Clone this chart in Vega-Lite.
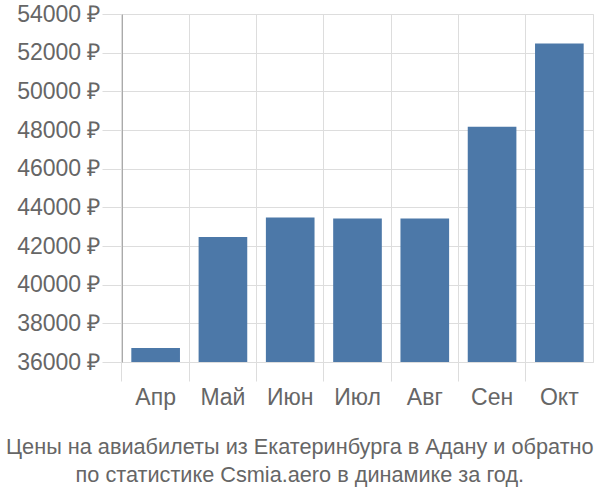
{
  "$schema": "https://vega.github.io/schema/vega-lite/v6.json",
  "width": 471,
  "height": 348,
  "autosize": {"type": "none"},
  "padding": {"left": 122, "top": 14, "right": 7, "bottom": 138},
  "background": "white",
  "title": {
    "text": ["Цены на авиабилеты из Екатеринбурга в Адану и обратно", "по статистике Csmia.aero в динамике за год."],
    "orient": "bottom",
    "anchor": "middle",
    "frame": "bounds",
    "font": "Liberation Sans",
    "fontSize": 21.7,
    "fontWeight": "normal",
    "color": "#666666",
    "lineHeight": 28,
    "offset": 28,
    "dx": -5
  },
  "data": {
    "values": [
      {"month": "Апр", "price": 36720},
      {"month": "Май", "price": 42470},
      {"month": "Июн", "price": 43470},
      {"month": "Июл", "price": 43420},
      {"month": "Авг", "price": 43420},
      {"month": "Сен", "price": 48170},
      {"month": "Окт", "price": 52470}
    ]
  },
  "mark": {"type": "bar", "color": "#4c78a8", "width": {"band": 0.723}},
  "encoding": {
    "x": {
      "field": "month",
      "type": "nominal",
      "sort": null,
      "scale": {"paddingInner": 0, "paddingOuter": 0},
      "axis": {
        "title": null,
        "labelAngle": 0,
        "labelFont": "Liberation Sans",
        "labelFontSize": 23,
        "labelColor": "#666666",
        "labelPadding": 5,
        "bandPosition": 0,
        "grid": true,
        "gridColor": "#dddddd",
        "tickColor": "#dddddd",
        "tickSize": 19,
        "domain": false
      }
    },
    "y": {
      "field": "price",
      "type": "quantitative",
      "scale": {"domain": [36000, 54000], "zero": false, "nice": false},
      "axis": {
        "title": null,
        "values": [36000, 38000, 40000, 42000, 44000, 46000, 48000, 50000, 52000, 54000],
        "labelExpr": "datum.value + ' ₽'",
        "labelFont": "Liberation Sans",
        "labelFontSize": 23,
        "labelColor": "#666666",
        "labelPadding": 2,
        "gridColor": "#dddddd",
        "tickColor": "#dddddd",
        "tickSize": 20,
        "domainColor": "#aaaaaa"
      }
    },
    "y2": {"datum": 36000}
  },
  "config": {"view": {"stroke": "#dddddd"}}
}
